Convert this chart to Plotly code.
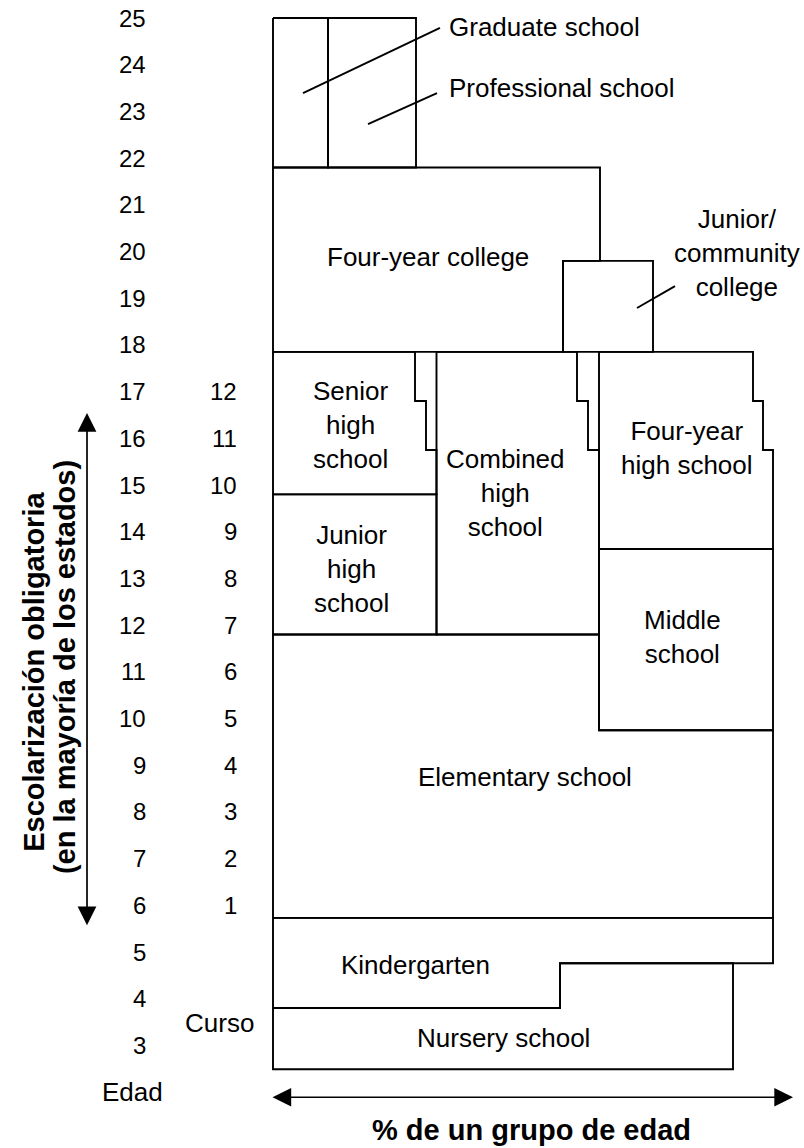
import plotly.graph_objects as go

# ---------------- data (ages on y, % of an age group on x) ----------------
ages = list(range(25, 2, -1))                 # age tick labels
grades = list(range(1, 13))                   # grade labels
grade_ages = [g + 5 for g in grades]          # grade 1 -> age 6

# age boundaries
age_top = 25.0
grad_bottom = 21.8
jc_top = 19.8
college_bottom = 17.85
hs_step1 = 16.8
hs_step2 = 15.75
senior_bottom = 14.8
fourhs_bottom = 13.63
junior_bottom = 11.8
middle_bottom = 9.75
elem_bottom = 5.73
kg_step = 4.76
kg_bottom = 3.8
nursery_bottom = 2.49

# percentage extents
graduate_x = [0, 11]
professional_x = [11, 28.6]
college_right = 65.4
jc_x = [58, 76]
senior_right_steps = [28.4, 30.6, 32.7]
combined_left = 32.7
combined_right_steps = [60.8, 63.0, 65.2]
fourhs_left = 65.2
fourhs_right_steps = [96, 98, 100]
middle_x = [65.2, 100]
elem_right = 100
kg_step_x = 57.4
nursery_right = 92

# ---------------- geometry helpers ----------------
def rect(x0, x1, y0, y1):
    return [x0, x1, x1, x0, x0], [y1, y1, y0, y0, y1]

def stepped(left, rights, top, s1, s2, bottom):
    xs = [left, rights[0], rights[0], rights[1], rights[1], rights[2], rights[2], left, left]
    ys = [top, top, s1, s1, s2, s2, bottom, bottom, top]
    return xs, ys

polys = []
polys.append(rect(graduate_x[0], graduate_x[1], grad_bottom, age_top))
polys.append(rect(professional_x[0], professional_x[1], grad_bottom, age_top))
polys.append(([0, college_right, college_right, jc_x[0], jc_x[0], 0, 0],
              [grad_bottom, grad_bottom, jc_top, jc_top, college_bottom, college_bottom, grad_bottom]))
polys.append(rect(jc_x[0], jc_x[1], college_bottom, jc_top))
polys.append(stepped(0, senior_right_steps, college_bottom, hs_step1, hs_step2, senior_bottom))
polys.append(stepped(combined_left, combined_right_steps, college_bottom, hs_step1, hs_step2, junior_bottom))
polys.append(stepped(fourhs_left, fourhs_right_steps, college_bottom, hs_step1, hs_step2, fourhs_bottom))
polys.append(rect(0, combined_left, junior_bottom, senior_bottom))
polys.append(rect(middle_x[0], middle_x[1], middle_bottom, fourhs_bottom))
polys.append(([0, middle_x[0], middle_x[0], elem_right, elem_right, 0, 0],
              [junior_bottom, junior_bottom, middle_bottom, middle_bottom, elem_bottom, elem_bottom, junior_bottom]))
polys.append(([0, elem_right, elem_right, kg_step_x, kg_step_x, 0, 0],
              [elem_bottom, elem_bottom, kg_step, kg_step, kg_bottom, kg_bottom, elem_bottom]))
polys.append(([0, kg_step_x, kg_step_x, nursery_right, nursery_right, 0, 0],
              [kg_bottom, kg_bottom, kg_step, kg_step, nursery_bottom, nursery_bottom, kg_bottom]))

# leader lines
leaders = [
    ([6, 33.4], [23.39, 24.79]),
    ([19, 32.8], [22.73, 23.39]),
    ([72.8, 80.4], [18.79, 19.26]),
]

fig = go.Figure()
for xs, ys in polys + leaders:
    fig.add_trace(go.Scatter(x=xs, y=ys, mode="lines",
                             line=dict(color="black", width=1.9),
                             hoverinfo="skip", showlegend=False))

FONT = "Liberation Sans, Arial, Helvetica, sans-serif"
BOX = 26

def txt(x, y, s, size=BOX, xanchor="center", bold=False, angle=0):
    if bold:
        s = "<b>" + s + "</b>"
    fig.add_annotation(x=x, y=y, text=s, showarrow=False, xanchor=xanchor,
                       yanchor="middle", textangle=angle,
                       font=dict(family=FONT, size=size, color="black"))

# box labels
txt(34.8, 24.81, "Graduate school", xanchor="left")
txt(34.8, 23.50, "Professional school", xanchor="left")
txt(31, 19.88, "Four-year college")
txt(92.8, 19.97, "Junior/<br>community<br>college")
txt(15.4, 16.28, "Senior<br>high<br>school")
txt(46.4, 14.83, "Combined<br>high<br>school")
txt(82.8, 15.79, "Four-year<br>high school")
txt(15.6, 13.2, "Junior<br>high<br>school")
txt(81.8, 11.75, "Middle<br>school")
txt(50.4, 8.75, "Elementary school")
txt(28.4, 4.72, "Kindergarten")
txt(46, 3.16, "Nursery school")

# age and grade labels
for a in ages:
    txt(-25, a, str(a), size=24, xanchor="right")
for g, a in zip(grades, grade_ages):
    txt(-6.8, a, str(g), size=24, xanchor="right")
txt(-28.2, 2.0, "Edad")
txt(-10.8, 3.48, "Curso")
txt(51.6, 1.19, "% de un grupo de edad", size=29, bold=True)
txt(-47.8, 11.0, "Escolarización obligatoria", size=29, bold=True, angle=-90)
txt(-41.7, 11.09, "(en la mayoría de los estados)", size=29, bold=True, angle=-90)

# double arrows
def darrow(x0, y0, x1, y1):
    fig.add_annotation(x=x1, y=y1, ax=x0, ay=y0, xref="x", yref="y",
                       axref="x", ayref="y", text="", showarrow=True,
                       arrowhead=2, startarrowhead=2, arrowside="end+start",
                       arrowsize=2.2, startarrowsize=2.2, arrowwidth=1.7,
                       arrowcolor="black")

darrow(-0.4, 1.89, 104, 1.89)
darrow(-37.2, 5.54, -37.2, 16.54)

W, H = 804, 1148
px_per_pct = 5.0
x_left_px = 273
px_per_age = 46.7
y25_px = 18
x0 = -x_left_px / px_per_pct
fig.update_layout(
    width=W, height=H, margin=dict(l=0, r=0, t=0, b=0),
    paper_bgcolor="white", plot_bgcolor="white",
    xaxis=dict(range=[x0, x0 + W / px_per_pct], visible=False, fixedrange=True),
    yaxis=dict(range=[25 - (H - y25_px) / px_per_age, 25 + y25_px / px_per_age],
               visible=False, fixedrange=True),
)
fig.write_html("out.html", config={"displayModeBar": False},
               post_script="document.body.style.margin='0';document.body.style.overflow='hidden';")
